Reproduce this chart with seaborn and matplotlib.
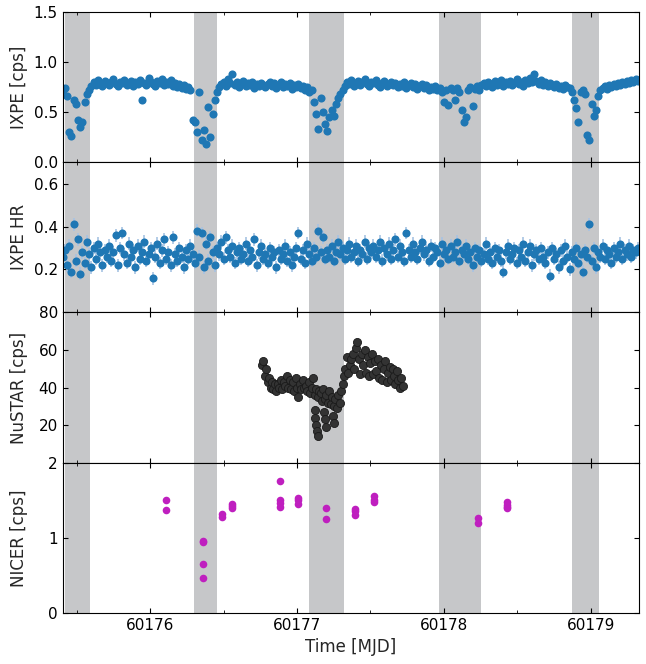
import numpy as np
import pandas as pd
import matplotlib
matplotlib.use("Agg")
import matplotlib.pyplot as plt
import seaborn as sns
from matplotlib.ticker import MultipleLocator, FormatStrFormatter

# ---------------- data ----------------
# Occultation / gap bands (MJD)
BAND_START = [60175.42, 60176.297, 60177.085, 60177.967, 60178.870]
BAND_END = [60175.59, 60176.456, 60177.320, 60178.253, 60179.057]

# IXPE light curve: uniform bins starting at IXPE_T0 with width IXPE_DT
IXPE_T0 = 60175.405
IXPE_DT = 0.015
IXPE_RATE = [
    0.72, 0.74, 0.66, 0.30, 0.26, 0.62, 0.58, 0.42, 0.35, 0.40, 0.60, 0.68, 0.72, 0.76,
    0.80, 0.77, 0.82, 0.78, 0.76, 0.81, 0.79, 0.77, 0.80, 0.83, 0.78, 0.76, 0.80, 0.79, 0.82, 0.77, 0.79, 0.81, 0.76, 0.80,
    0.78, 0.82, 0.62, 0.79, 0.77, 0.84, 0.80, 0.78, 0.76, 0.81, 0.79, 0.83, 0.77, 0.80, 0.78, 0.82, 0.76, 0.79, 0.75, 0.78,
    0.74, 0.77, 0.73, 0.75, 0.72,
    0.42, 0.40, 0.30, 0.70, 0.22, 0.32, 0.18, 0.55, 0.25, 0.48, 0.62, 0.70, 0.75,
    0.78, 0.80, 0.76, 0.83, 0.79, 0.88, 0.77, 0.80, 0.75, 0.78, 0.81, 0.76, 0.79, 0.77, 0.80, 0.74, 0.78, 0.76, 0.79, 0.77,
    0.75, 0.78, 0.80, 0.76, 0.79, 0.74, 0.77, 0.80, 0.75, 0.78, 0.76, 0.79, 0.73, 0.77, 0.75, 0.78, 0.74, 0.76, 0.72, 0.75,
    0.70, 0.72, 0.60, 0.48, 0.33, 0.64, 0.50, 0.38, 0.31, 0.45, 0.52, 0.46, 0.58, 0.64, 0.68, 0.72, 0.76,
    0.80, 0.78, 0.82, 0.76, 0.79, 0.81, 0.77, 0.80, 0.83, 0.78, 0.76, 0.80, 0.79, 0.82, 0.77, 0.75, 0.79, 0.81, 0.76, 0.78, 0.80, 0.77,
    0.79, 0.75, 0.78, 0.76, 0.80, 0.74, 0.77, 0.79, 0.75, 0.78, 0.73, 0.76, 0.78, 0.74, 0.77, 0.72, 0.75, 0.73, 0.76, 0.72,
    0.74, 0.70, 0.60, 0.72, 0.57, 0.74, 0.72, 0.62, 0.74, 0.70, 0.52, 0.40, 0.45, 0.72, 0.75, 0.56, 0.73, 0.76, 0.72, 0.77,
    0.79, 0.76, 0.80, 0.78, 0.75, 0.81, 0.77, 0.79, 0.82, 0.76, 0.80, 0.78, 0.81, 0.77, 0.79, 0.83, 0.78, 0.80, 0.76, 0.82,
    0.79, 0.84, 0.80, 0.88, 0.81, 0.78, 0.82, 0.77, 0.80, 0.76, 0.79, 0.77, 0.75, 0.78, 0.74, 0.76, 0.73, 0.77, 0.75,
    0.74, 0.70, 0.62, 0.54, 0.40, 0.70, 0.72, 0.68, 0.27, 0.22, 0.58, 0.46, 0.52, 0.66, 0.72,
    0.74, 0.76, 0.73, 0.77, 0.75, 0.78, 0.76, 0.79, 0.77, 0.80, 0.78, 0.81, 0.79, 0.82, 0.80, 0.83, 0.81,
]
IXPE_RATE_ERR = 0.035

IXPE_HR = [
    0.26, 0.29, 0.22, 0.31, 0.19, 0.41, 0.24, 0.34, 0.18, 0.28, 0.23, 0.33, 0.27, 0.21, 0.30, 0.25, 0.32, 0.28, 0.22, 0.29,
    0.26, 0.31, 0.24, 0.28, 0.36, 0.22, 0.30, 0.37, 0.27, 0.23, 0.32, 0.26, 0.29, 0.21, 0.31, 0.25, 0.28, 0.33, 0.24, 0.27,
    0.30, 0.16, 0.26, 0.32, 0.23, 0.29, 0.34, 0.25, 0.28, 0.22, 0.35, 0.27, 0.24, 0.30, 0.26, 0.21, 0.29, 0.25, 0.31, 0.27,
    0.23, 0.38, 0.26, 0.37, 0.21, 0.32, 0.24, 0.35, 0.28, 0.22, 0.30, 0.27, 0.33, 0.25, 0.35, 0.29, 0.26, 0.31, 0.23, 0.28,
    0.30, 0.25, 0.27, 0.32, 0.24, 0.29, 0.26, 0.34, 0.22, 0.28, 0.31, 0.25, 0.27, 0.23, 0.30, 0.26, 0.28, 0.21, 0.29, 0.25,
    0.27, 0.31, 0.24, 0.28, 0.22, 0.26, 0.30, 0.37, 0.25, 0.29, 0.23, 0.32, 0.27, 0.24, 0.30, 0.26, 0.38, 0.28, 0.35, 0.25,
    0.29, 0.26, 0.31, 0.24, 0.28, 0.33, 0.27, 0.30, 0.25, 0.29, 0.32, 0.26, 0.28, 0.31, 0.24, 0.29, 0.27, 0.33, 0.25, 0.30,
    0.28, 0.31, 0.26, 0.29, 0.33, 0.24, 0.30, 0.27, 0.32, 0.25, 0.29, 0.34, 0.26, 0.31, 0.28, 0.24, 0.37, 0.29, 0.26, 0.32,
    0.28, 0.25, 0.30, 0.33, 0.27, 0.29, 0.24, 0.31, 0.26, 0.30, 0.28, 0.23, 0.32, 0.27, 0.29, 0.25, 0.31, 0.26, 0.28, 0.33,
    0.24, 0.29, 0.27, 0.31, 0.25, 0.28, 0.22, 0.30, 0.26, 0.29, 0.24, 0.27, 0.32, 0.25, 0.28, 0.23, 0.30, 0.26, 0.29, 0.24,
    0.19, 0.28, 0.31, 0.25, 0.27, 0.30, 0.23, 0.29, 0.26, 0.32, 0.24, 0.28, 0.31, 0.22, 0.27, 0.29, 0.25, 0.30, 0.26, 0.23,
    0.28, 0.17, 0.30, 0.25, 0.27, 0.21, 0.29, 0.24, 0.31, 0.26, 0.20, 0.28, 0.25, 0.30, 0.23, 0.27, 0.19, 0.29, 0.26, 0.41,
    0.24, 0.30, 0.21, 0.28, 0.26, 0.31, 0.25, 0.29, 0.27, 0.23, 0.30, 0.26, 0.28, 0.32, 0.25, 0.29, 0.27, 0.31, 0.26, 0.29, 0.28, 0.30,
]
IXPE_HR_ERR = 0.03

# NuSTAR light curve: uniform bins from NU_T0 with width NU_DT
NU_T0 = 60176.76
NU_DT = 0.01
NU_RATE = [
    52, 54, 46, 50, 43, 45, 40, 43, 39, 42,
    38, 42, 40, 44, 39, 43, 41, 46, 40, 44,
    39, 43, 38, 45, 40, 35, 42, 39, 44, 40,
    41, 38, 43, 37, 40, 45, 36, 39, 35, 38,
    37, 33, 39, 34, 36, 32, 38, 31, 35, 30,
    34, 29, 36, 32, 38,
    42, 46, 50, 56, 48, 52, 55, 58, 50, 61, 64, 55, 47, 58, 52,
    60, 48, 56, 46, 53, 58, 47, 54, 49, 55,
    45, 52, 44, 50, 54, 43, 48, 51, 44, 50,
    46, 42, 49, 44, 40, 45, 41,
]
# NuSTAR low-rate points during the dip
NU_DIP_T = [60177.120, 60177.125, 60177.130, 60177.135, 60177.140,
            60177.185, 60177.190, 60177.195, 60177.245, 60177.250]
NU_DIP_RATE = [28, 24, 20, 17, 14, 27, 23, 19, 25, 21]
NU_ERR = 1.5

# NICER snapshots
NICER_T = [60176.109, 60176.109,
           60176.360, 60176.360, 60176.362, 60176.362,
           60176.490, 60176.490,
           60176.560, 60176.560, 60176.560,
           60176.885, 60176.885, 60176.885, 60176.885,
           60177.007, 60177.007, 60177.007,
           60177.198, 60177.198,
           60177.395, 60177.395, 60177.395,
           60177.525, 60177.525, 60177.525,
           60178.233, 60178.233,
           60178.430, 60178.430, 60178.430, 60178.430]
NICER_RATE = [1.50, 1.37,
              0.96, 0.94, 0.65, 0.47,
              1.31, 1.28,
              1.45, 1.42, 1.39,
              1.75, 1.50, 1.46, 1.41,
              1.53, 1.50, 1.45,
              1.40, 1.25,
              1.38, 1.35, 1.30,
              1.56, 1.50, 1.47,
              1.26, 1.20,
              1.47, 1.44, 1.41, 1.39]
NICER_ERR = 0.02

YLABELS = ["IXPE [cps]", "IXPE HR", "NuSTAR [cps]", "NICER [cps]"]

# ---------------- build tables ----------------
t_rate = IXPE_T0 + IXPE_DT * np.arange(len(IXPE_RATE))
t_hr = IXPE_T0 + IXPE_DT * np.arange(len(IXPE_HR))
ixpe_rate = pd.DataFrame({"t": t_rate, "y": IXPE_RATE})
ixpe_hr = pd.DataFrame({"t": t_hr, "y": IXPE_HR})
t_nu = NU_T0 + NU_DT * np.arange(len(NU_RATE))
nustar = pd.concat([pd.DataFrame({"t": t_nu, "y": NU_RATE}),
                    pd.DataFrame({"t": NU_DIP_T, "y": NU_DIP_RATE})], ignore_index=True)
nicer = pd.DataFrame({"t": NICER_T, "y": NICER_RATE})

# ---------------- style ----------------
sns.set_style("ticks", rc={
    "xtick.direction": "in", "ytick.direction": "in",
    "xtick.top": True, "ytick.right": True,
    "axes.edgecolor": "black", "axes.linewidth": 1.0,
    "xtick.color": "black", "ytick.color": "black",
    "xtick.major.size": 4.5, "ytick.major.size": 4.5,
    "xtick.minor.size": 2.5, "ytick.minor.size": 2.5,
    "xtick.major.width": 1.0, "ytick.major.width": 1.0,
})
plt.rcParams["font.family"] = ["DejaVu Sans"]
plt.rcParams["font.size"] = 11

fig, axes = plt.subplots(4, 1, sharex=True, figsize=(6.46, 6.64), dpi=100)
plt.subplots_adjust(left=0.097, right=0.989, top=0.982, bottom=0.077, hspace=0)

BLUE = "#1f77b4"
BAND_COLOR = "#c6c7c9"

for ax in axes:
    for s, e in zip(BAND_START, BAND_END):
        ax.axvspan(s, e, color=BAND_COLOR, lw=0, zorder=0)

# IXPE rate
ax = axes[0]
ax.errorbar(ixpe_rate["t"], ixpe_rate["y"], yerr=IXPE_RATE_ERR, fmt="none",
            ecolor="#a7c3e3", elinewidth=1.2, zorder=1)
sns.scatterplot(data=ixpe_rate, x="t", y="y", ax=ax, color=BLUE, s=34,
                linewidth=0, zorder=2, legend=False)
ax.set_ylim(0, 1.5)
ax.set_yticks([0, 0.5, 1.0, 1.5])
ax.yaxis.set_major_formatter(FormatStrFormatter("%.1f"))

# IXPE HR
ax = axes[1]
ax.errorbar(ixpe_hr["t"], ixpe_hr["y"], yerr=IXPE_HR_ERR, fmt="none",
            ecolor="#a7c3e3", elinewidth=1.2, zorder=1)
sns.scatterplot(data=ixpe_hr, x="t", y="y", ax=ax, color=BLUE, s=34,
                linewidth=0, zorder=2, legend=False)
ax.set_ylim(0, 0.7)
ax.set_yticks([0.2, 0.4, 0.6])

# NuSTAR
ax = axes[2]
ax.errorbar(nustar["t"], nustar["y"], yerr=NU_ERR, fmt="none",
            ecolor="#9a9a9a", elinewidth=0.8, zorder=1)
sns.scatterplot(data=nustar, x="t", y="y", ax=ax, color="#333333", s=34,
                edgecolor="#1a1a1a", linewidth=0.6, zorder=2, legend=False)
ax.set_ylim(0, 80)
ax.set_yticks([20, 40, 60, 80])

# NICER
ax = axes[3]
ax.errorbar(nicer["t"], nicer["y"], yerr=NICER_ERR, fmt="none",
            ecolor="#d070d0", elinewidth=1.0, zorder=1)
sns.scatterplot(data=nicer, x="t", y="y", ax=ax, color="#bf1fbf", s=30,
                linewidth=0, zorder=2, legend=False)
ax.set_ylim(0, 2)
ax.set_yticks([0, 1, 2])

for ax, lab in zip(axes, YLABELS):
    ax.set_ylabel(lab, fontsize=12)
    ax.set_xlabel("")
    ax.tick_params(axis="both", which="both", direction="in",
                   top=True, right=True, labelsize=11)
    ax.xaxis.set_major_locator(MultipleLocator(1))
    ax.xaxis.set_minor_locator(MultipleLocator(0.5))

axes[-1].set_xlim(t_rate[0], t_rate[-1] + 0.007)
axes[-1].xaxis.set_major_formatter(FormatStrFormatter("%d"))
axes[-1].set_xlabel("Time [MJD]", fontsize=12)
fig.align_ylabels(axes)

fig.savefig("out.png", dpi=100)
